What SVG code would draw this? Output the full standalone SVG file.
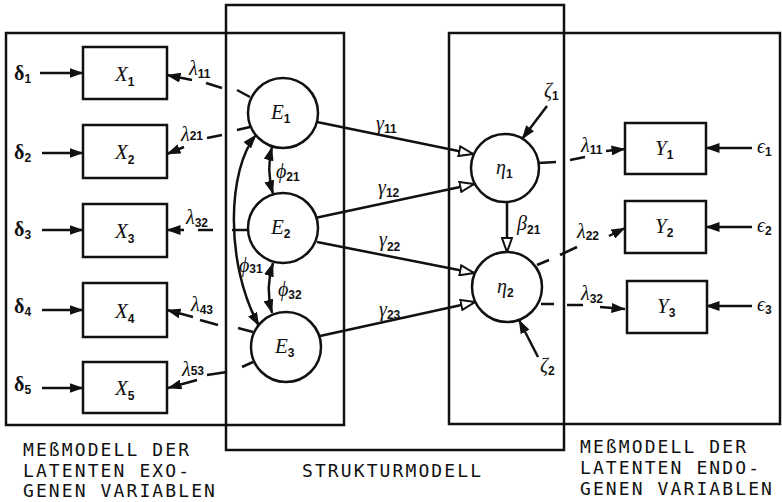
<svg xmlns="http://www.w3.org/2000/svg" width="782" height="502" viewBox="0 0 782 502">
<style>
.frame{fill:none;stroke:#111;stroke-width:2.5}
.box{fill:#fff;stroke:#111;stroke-width:2.5}
.ln{fill:none;stroke:#111;stroke-width:2.5}
.v{font-family:"Liberation Serif",serif;font-style:italic;font-size:21px;fill:#111}
.g{font-family:"Liberation Serif",serif;font-style:italic;font-size:20px;fill:#111}
.gb{font-family:"Liberation Serif",serif;font-weight:bold;font-size:20px;fill:#111}
.s{font-family:"Liberation Sans",sans-serif;font-style:normal;font-weight:bold;font-size:12px}
.cap{font-family:"DejaVu Sans Mono",monospace;font-size:18px;letter-spacing:2.1px;fill:#111}
</style>
<defs>
<marker id="af" viewBox="0 0 14 10" refX="13.5" refY="5" markerWidth="14" markerHeight="10" orient="auto-start-reverse" markerUnits="userSpaceOnUse"><path d="M0,0 L14,5 L0,10 z" fill="#111"/></marker>
<marker id="ao" viewBox="-1 -1 16 12" refX="14" refY="5" markerWidth="16" markerHeight="12" orient="auto" markerUnits="userSpaceOnUse"><path d="M0,0 L14,5 L0,10 z" fill="#fff" stroke="#111" stroke-width="2"/></marker>
</defs>

<g id="frames">
<rect class="frame" x="6" y="33" width="338" height="392"/>
<rect class="frame" x="226" y="5" width="338" height="445"/>
<rect class="frame" x="449" y="33" width="331" height="391"/>
</g>

<g id="connectors">
<line class="ln" x1="40" y1="73" x2="83" y2="73" marker-end="url(#af)"/>
<line class="ln" x1="42" y1="153" x2="83" y2="153" marker-end="url(#af)"/>
<line class="ln" x1="42" y1="230" x2="83" y2="230" marker-end="url(#af)"/>
<line class="ln" x1="42" y1="310" x2="83" y2="310" marker-end="url(#af)"/>
<line class="ln" x1="42" y1="388" x2="83" y2="388" marker-end="url(#af)"/>
<line class="ln" x1="237" y1="90" x2="250" y2="97"/>
<line class="ln" x1="206" y1="83" x2="222" y2="88"/>
<line class="ln" x1="192" y1="80" x2="167" y2="75" marker-end="url(#af)"/>
<line class="ln" x1="237" y1="130" x2="250" y2="127"/>
<line class="ln" x1="207" y1="138" x2="222" y2="135"/>
<line class="ln" x1="184" y1="147" x2="167" y2="154" marker-end="url(#af)"/>
<line class="ln" x1="232" y1="230" x2="248" y2="230"/>
<line class="ln" x1="198" y1="230" x2="213" y2="230"/>
<line class="ln" x1="184" y1="230" x2="167" y2="230" marker-end="url(#af)"/>
<line class="ln" x1="238" y1="328" x2="253" y2="332"/>
<line class="ln" x1="200" y1="320" x2="218" y2="325"/>
<line class="ln" x1="193" y1="317" x2="167" y2="310" marker-end="url(#af)"/>
<line class="ln" x1="242" y1="367" x2="253" y2="362"/>
<line class="ln" x1="207" y1="375" x2="227" y2="372"/>
<line class="ln" x1="197" y1="380" x2="168" y2="388" marker-end="url(#af)"/>
<path class="ln" d="M272,147 Q266,170 273,194" marker-start="url(#af)" marker-end="url(#af)"/>
<path class="ln" d="M273,263 Q265,288 272,313" marker-start="url(#af)" marker-end="url(#af)"/>
<path class="ln" d="M256,135 C228,168 224,262 259,326" marker-start="url(#af)" marker-end="url(#af)"/>
<line class="ln" x1="317" y1="122" x2="473" y2="154" marker-end="url(#ao)"/>
<line class="ln" x1="315" y1="218" x2="474" y2="184" marker-end="url(#ao)"/>
<line class="ln" x1="317" y1="242" x2="474" y2="273" marker-end="url(#ao)"/>
<line class="ln" x1="320" y1="336" x2="475" y2="302" marker-end="url(#ao)"/>
<line class="ln" x1="507" y1="202" x2="507" y2="252" marker-end="url(#ao)"/>
<line class="ln" x1="547" y1="106" x2="522" y2="139" marker-end="url(#af)"/>
<line class="ln" x1="538" y1="357" x2="519" y2="320" marker-end="url(#af)"/>
<line class="ln" x1="539" y1="163" x2="556" y2="162"/>
<line class="ln" x1="570" y1="160" x2="585" y2="157"/>
<line class="ln" x1="606" y1="151" x2="625" y2="149" marker-end="url(#af)"/>
<line class="ln" x1="537" y1="265" x2="549" y2="260"/>
<line class="ln" x1="560" y1="255" x2="577" y2="247"/>
<line class="ln" x1="609" y1="236" x2="625" y2="228" marker-end="url(#af)"/>
<line class="ln" x1="541" y1="304" x2="554" y2="304"/>
<line class="ln" x1="567" y1="305" x2="583" y2="305"/>
<line class="ln" x1="600" y1="307" x2="625" y2="309" marker-end="url(#af)"/>
<line class="ln" x1="752" y1="148" x2="706" y2="148" marker-end="url(#af)"/>
<line class="ln" x1="752" y1="227" x2="706" y2="227" marker-end="url(#af)"/>
<line class="ln" x1="752" y1="306" x2="706" y2="306" marker-end="url(#af)"/>
</g>

<g id="X1"><rect class="box" x="83" y="47" width="84" height="52"/><text class="v" x="115" y="81">X<tspan class="s" dy="5">1</tspan></text></g>
<g id="X2"><rect class="box" x="83" y="125" width="84" height="53"/><text class="v" x="115" y="159">X<tspan class="s" dy="5">2</tspan></text></g>
<g id="X3"><rect class="box" x="83" y="204" width="84" height="53"/><text class="v" x="115" y="238">X<tspan class="s" dy="5">3</tspan></text></g>
<g id="X4"><rect class="box" x="83" y="283" width="84" height="54"/><text class="v" x="115" y="318">X<tspan class="s" dy="5">4</tspan></text></g>
<g id="X5"><rect class="box" x="83" y="362" width="84" height="51"/><text class="v" x="115" y="395">X<tspan class="s" dy="5">5</tspan></text></g>

<g id="d1"><text class="gb" x="14" y="80">δ<tspan class="s" dy="3">1</tspan></text></g>
<g id="d2"><text class="gb" x="14" y="159">δ<tspan class="s" dy="3">2</tspan></text></g>
<g id="d3"><text class="gb" x="14" y="236">δ<tspan class="s" dy="3">3</tspan></text></g>
<g id="d4"><text class="gb" x="14" y="313">δ<tspan class="s" dy="3">4</tspan></text></g>
<g id="d5"><text class="gb" x="14" y="391">δ<tspan class="s" dy="3">5</tspan></text></g>

<g id="lx11"><text class="g" x="189" y="75">λ<tspan class="s" dy="3">11</tspan></text></g>
<g id="lx21"><text class="g" x="181" y="141">λ<tspan class="s" dy="-1">21</tspan></text></g>
<g id="lx32"><text class="g" x="186" y="224">λ<tspan class="s" dy="3">32</tspan></text></g>
<g id="lx43"><text class="g" x="191" y="311">λ<tspan class="s" dy="3">43</tspan></text></g>
<g id="lx53"><text class="g" x="182" y="376">λ<tspan class="s" dy="-1">53</tspan></text></g>

<g id="E1"><circle class="box" cx="283" cy="113" r="35"/><text class="v" x="271" y="119">E<tspan class="s" dy="4">1</tspan></text></g>
<g id="E2"><circle class="box" cx="283" cy="228" r="35"/><text class="v" x="271" y="234">E<tspan class="s" dy="4">2</tspan></text></g>
<g id="E3"><circle class="box" cx="286" cy="347" r="35"/><text class="v" x="275" y="353">E<tspan class="s" dy="4">3</tspan></text></g>

<g id="phi21"><text class="g" x="276" y="178">ϕ<tspan class="s" dy="3">21</tspan></text></g>
<g id="phi31"><text class="g" x="239" y="272">ϕ<tspan class="s" dy="1">31</tspan></text></g>
<g id="phi32"><text class="g" x="278" y="296">ϕ<tspan class="s" dy="3">32</tspan></text></g>

<g id="g11"><text class="g" x="376" y="130">γ<tspan class="s" dy="3">11</tspan></text></g>
<g id="g12"><text class="g" x="378" y="194">γ<tspan class="s" dy="3">12</tspan></text></g>
<g id="g22"><text class="g" x="379" y="246">γ<tspan class="s" dy="5">22</tspan></text></g>
<g id="g23"><text class="g" x="379" y="316">γ<tspan class="s" dy="3">23</tspan></text></g>

<g id="eta1"><circle class="box" cx="505" cy="168" r="34"/><text class="g" x="496" y="174">η<tspan class="s" dy="4">1</tspan></text></g>
<g id="eta2"><circle class="box" cx="507" cy="287" r="35"/><text class="g" x="497" y="293">η<tspan class="s" dy="4">2</tspan></text></g>

<g id="z1"><text class="g" x="544" y="97">ζ<tspan class="s" dy="3">1</tspan></text></g>
<g id="z2"><text class="g" x="540" y="372">ζ<tspan class="s" dy="3">2</tspan></text></g>
<g id="b21"><text class="g" x="517" y="230">β<tspan class="s" dy="4">21</tspan></text></g>

<g id="ly11"><text class="g" x="581" y="152">λ<tspan class="s" dy="2">11</tspan></text></g>
<g id="ly22"><text class="g" x="577" y="238">λ<tspan class="s" dy="2">22</tspan></text></g>
<g id="ly32"><text class="g" x="581" y="300">λ<tspan class="s" dy="3">32</tspan></text></g>

<g id="Y1"><rect class="box" x="625" y="123" width="81" height="51"/><text class="v" x="655" y="155">Y<tspan class="s" dy="4">1</tspan></text></g>
<g id="Y2"><rect class="box" x="625" y="201" width="81" height="52"/><text class="v" x="655" y="233">Y<tspan class="s" dy="4">2</tspan></text></g>
<g id="Y3"><rect class="box" x="627" y="281" width="80" height="52"/><text class="v" x="657" y="313">Y<tspan class="s" dy="4">3</tspan></text></g>

<g id="e1"><text class="g" x="757" y="153">ϵ<tspan class="s" dy="3">1</tspan></text></g>
<g id="e2"><text class="g" x="757" y="232">ϵ<tspan class="s" dy="3">2</tspan></text></g>
<g id="e3"><text class="g" x="757" y="311">ϵ<tspan class="s" dy="3">3</tspan></text></g>

<g id="captions">
<text class="cap" x="23" y="456">MEßMODELL DER</text>
<text class="cap" x="23" y="477">LATENTEN EXO-</text>
<text class="cap" x="23" y="497">GENEN VARIABLEN</text>
<text class="cap" x="302" y="477">STRUKTURMODELL</text>
<text class="cap" x="580" y="453">MEßMODELL DER</text>
<text class="cap" x="580" y="474">LATENTEN ENDO-</text>
<text class="cap" x="580" y="495">GENEN VARIABLEN</text>
</g>
</svg>
